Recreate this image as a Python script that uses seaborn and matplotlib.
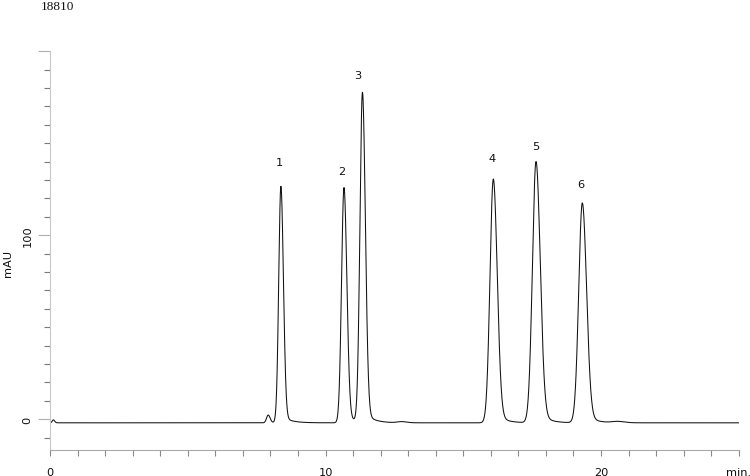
import numpy as np
import pandas as pd
import matplotlib
matplotlib.use("Agg")
import matplotlib.pyplot as plt
import seaborn as sns

# ---- data ----
peak_labels = ["1", "2", "3", "4", "5", "6"]
label_x = [8.32, 10.59, 11.18, 16.03, 17.64, 19.26]      # min
label_y = [139.5, 135.0, 187.0, 141.7, 148.2, 127.7]     # mAU

peak_rt = [0.12, 7.92, 8.38, 10.67, 11.34, 12.76, 16.09, 17.64, 19.32, 20.6]      # min
peak_height = [1.6, 4.2, 127.0, 126.2, 176.8, 0.6, 130.3, 139.5, 117.4, 0.7]      # mAU
peak_sigma = [0.04, 0.06, 0.078, 0.088, 0.09, 0.15, 0.12, 0.13, 0.13, 0.2]       # min
baseline_level = -2.0
tail_fraction = 0.035
tail_tau = 0.3

x_ticks = list(range(0, 26))
x_tick_labels = ["0" if v == 0 else "10" if v == 10 else "20" if v == 20 else
                 "min." if v == 25 else "" for v in x_ticks]
y_major = [0, 100, 200]
y_major_labels = ["0", "100", ""]
y_minor = list(range(-10, 200, 10))
header_text = "18810"
y_label = "mAU"

# ---- build trace from peak table ----
dt = 0.005
t = np.arange(0, 25 + dt / 2, dt)
main = np.zeros_like(t)
for rt, h, s in zip(peak_rt, peak_height, peak_sigma):
    s_eff = np.where(t < rt, s, s * 1.18)
    main += h * np.exp(-0.5 * ((t - rt) / s_eff) ** 2)
kt = np.arange(0, 3, dt)
kern = np.exp(-kt / tail_tau)
kern /= kern.sum()
tail = np.convolve(main, kern)[: len(t)] * tail_fraction / 0.8
signal = baseline_level + main + tail

df = pd.DataFrame({"time": t, "mAU": signal})

# ---- figure ----
sns.set_theme(style="white")
plt.rcParams["font.family"] = ["DejaVu Sans"]

fig = plt.figure(figsize=(7.5, 4.77), dpi=100)
W, H = 750, 477
y_lo, y_hi = -16.5, 204
px_per_mau = 1.84
ax_h = (y_hi - y_lo) * px_per_mau
ax_bottom_px = 450.5
ax = fig.add_axes([50 / W, (H - ax_bottom_px) / H, 688.75 / W, ax_h / H])

sns.lineplot(data=df, x="time", y="mAU", ax=ax, color="#111111",
             linewidth=0.75, estimator=None, sort=False)

ax.set_xlim(0, 25)
ax.set_ylim(y_lo, y_hi)

for side in ["top", "right"]:
    ax.spines[side].set_visible(False)
ax.spines["left"].set_color("#c8c8c8")
ax.spines["bottom"].set_color("#a8a8a8")
ax.spines["left"].set_linewidth(0.8)
ax.spines["bottom"].set_linewidth(0.8)
ax.spines["left"].set_bounds(y_lo, 200)

ax.set_xticks(x_ticks)
ax.set_xticklabels(x_tick_labels, fontsize=8.2, color="#111111")
ax.tick_params(axis="x", which="major", direction="out", length=4.5,
               width=0.8, color="#8a8a8a", pad=8, bottom=True)

ax.set_yticks(y_major)
ax.set_yticklabels(y_major_labels, rotation=90, va="center",
                   fontsize=8.2, color="#111111")
ax.set_yticks(y_minor, minor=True)
ax.tick_params(axis="y", which="major", direction="out", length=8.6,
               width=0.8, color="#b0b0b0", pad=4, left=True)
ax.tick_params(axis="y", which="minor", direction="out", length=4.3,
               width=0.8, color="#7a7a7a", left=True)

ax.set_xlabel("")
ax.set_ylabel("")
ax.grid(False)

for lab, lx, ly in zip(peak_labels, label_x, label_y):
    ax.text(lx, ly, lab, ha="center", va="center", fontsize=8.2, color="#111111")

fig.text(8 / W, 1 - 263 / H, y_label, rotation=90, ha="center", va="center",
         fontsize=8.2, color="#111111")
fig.text(57 / W, 1 - 6.5 / H, header_text, ha="center", va="center",
         fontsize=9.5, color="#111111", family=["Liberation Serif", "DejaVu Serif"])

fig.savefig("out.png", dpi=100)
